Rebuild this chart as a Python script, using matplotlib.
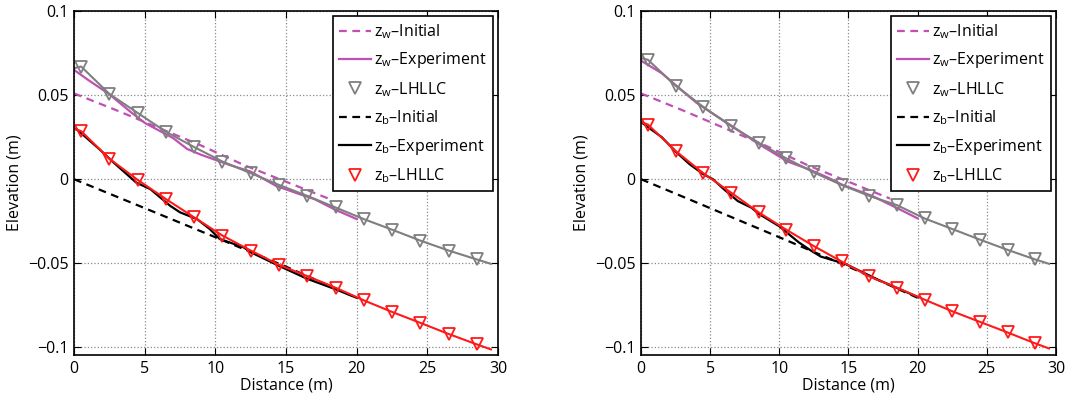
import matplotlib.pyplot as plt
import numpy as np

plt.rcParams['font.family'] = ['Open Sans', 'DejaVu Sans']
plt.rcParams['mathtext.fontset'] = 'custom'
plt.rcParams['mathtext.rm'] = 'Open Sans'

# initial profiles (same for both runs)
x_init_w = [0, 3, 6, 9, 12, 15, 18]
zw_init = [0.051, 0.041, 0.0305, 0.020, 0.0085, -0.0015, -0.0115]
x_init_b = [0, 5, 10, 15, 20]
zb_init = [0, -0.0172, -0.0345, -0.052, -0.0705]

# LHLLC output points (line starts at 0, markers every 2 m from 0.5)
x_sim = [0, 0.5, 2.5, 4.5, 6.5, 8.5, 10.5, 12.5, 14.5, 16.5, 18.5, 20.5, 22.5, 24.5, 26.5, 28.5, 29.5]

# run 1
x_exp_w1 = [0, 1, 2.5, 4, 5, 6, 7, 8, 9, 10, 11, 12.5, 14.3, 16, 17, 18.5, 20]
zw_exp1 = [0.065, 0.059, 0.0505, 0.040, 0.0335, 0.029, 0.0245, 0.018, 0.0145, 0.0115, 0.0085,
           0.0045, -0.004, -0.009, -0.0118, -0.0182, -0.0237]
x_exp_b1 = [0, 0.2, 1.8, 2.8, 4.4, 5.4, 6.8, 7.5, 8.7, 9.6, 10.3, 12.0, 12.5, 14.6, 16.5, 18.4, 20]
zb_exp1 = [0.030, 0.0296, 0.0178, 0.0099, -0.002, -0.0059, -0.0158, -0.0197, -0.0237, -0.0296,
           -0.0355, -0.0405, -0.0434, -0.0519, -0.0592, -0.0651, -0.0705]
zw_sim1 = [0.066, 0.067, 0.0507, 0.0394, 0.0282, 0.0191, 0.0105, 0.0036, -0.0034, -0.0099,
           -0.0168, -0.0237, -0.030, -0.0365, -0.0424, -0.0477, -0.0503]
zb_sim1 = [0.030, 0.0286, 0.0122, -0.0004, -0.0118, -0.0227, -0.0335, -0.0424, -0.0509, -0.0576,
           -0.0645, -0.072, -0.0789, -0.0854, -0.092, -0.0982, -0.1012]

# run 2
x_exp_w2 = [0, 1.5, 2.5, 4, 5, 6.5, 8.6, 10, 10.6, 12.1, 13.5, 14.6, 16.7, 18.6, 20]
zw_exp2 = [0.0705, 0.063, 0.056, 0.0455, 0.040, 0.032, 0.0205, 0.0135, 0.0105, 0.006, 0.001,
           -0.0035, -0.0099, -0.0175, -0.0233]
x_exp_b2 = [0, 1.5, 2.5, 3.5, 4.5, 5.2, 6, 7, 8, 8.5, 10, 11.4, 12.3, 13, 14.75, 17.2, 20]
zb_exp2 = [0.034, 0.025, 0.0165, 0.009, 0.003, 0.000, -0.006, -0.013, -0.017, -0.0205, -0.028,
           -0.0375, -0.0425, -0.046, -0.0503, -0.060, -0.070]
zw_sim2 = [0.072, 0.071, 0.0556, 0.043, 0.0316, 0.0217, 0.0124, 0.004, -0.0034, -0.0099,
           -0.0154, -0.0233, -0.0296, -0.0359, -0.042, -0.0477, -0.0503]
zb_sim2 = [0.034, 0.0325, 0.0168, 0.0036, -0.0079, -0.0197, -0.030, -0.0398, -0.0489, -0.0578,
           -0.0645, -0.0716, -0.0785, -0.0848, -0.0911, -0.0976, -0.1006]

magenta = '#c050b4'
gray = '#7f7f7f'
red = '#ff1a1a'

fig = plt.figure(figsize=(10.92, 3.97), dpi=100)
ax1 = fig.add_axes([0.0678, 0.1058, 0.3883, 0.8665])
ax2 = fig.add_axes([0.587, 0.1058, 0.380, 0.8665])

runs = [(ax1, x_exp_w1, zw_exp1, x_exp_b1, zb_exp1, zw_sim1, zb_sim1),
        (ax2, x_exp_w2, zw_exp2, x_exp_b2, zb_exp2, zw_sim2, zb_sim2)]

for ax, xw, zw, xb, zb, zws, zbs in runs:
    ax.plot(x_init_w, zw_init, '--', color=magenta, lw=1.6, dashes=(3.5, 2.5))
    ax.plot(xw, zw, '-', color=magenta, lw=1.6)
    ax.plot(x_sim, zws, '-', color=gray, lw=1.5)
    ax.plot(x_init_b, zb_init, '--', color='k', lw=1.6, dashes=(3.5, 2.5))
    ax.plot(xb, zb, '-', color='k', lw=1.6)
    ax.plot(x_sim, zbs, '-', color=red, lw=1.5)
    ax.plot(x_sim[1:-1], zws[1:-1], 'v', mfc='none', mec=gray, ms=9, mew=1.3)
    ax.plot(x_sim[1:-1], zbs[1:-1], 'v', mfc='none', mec=red, ms=9, mew=1.3)

    # legend proxies
    h = [plt.Line2D([], [], ls='--', color=magenta, lw=1.6, dashes=(3.5, 2.5)),
         plt.Line2D([], [], ls='-', color=magenta, lw=1.6),
         plt.Line2D([], [], ls='none', marker='v', mfc='none', mec=gray, ms=9, mew=1.3),
         plt.Line2D([], [], ls='--', color='k', lw=1.6, dashes=(3.5, 2.5)),
         plt.Line2D([], [], ls='-', color='k', lw=1.6),
         plt.Line2D([], [], ls='none', marker='v', mfc='none', mec=red, ms=9, mew=1.3)]
    labels = [r'$\mathregular{z_w}$–Initial', r'$\mathregular{z_w}$–Experiment', r'$\mathregular{z_w}$–LHLLC',
              r'$\mathregular{z_b}$–Initial', r'$\mathregular{z_b}$–Experiment', r'$\mathregular{z_b}$–LHLLC']
    leg = ax.legend(h, labels, loc='upper right', fontsize=11.5, fancybox=False, framealpha=1,
                    edgecolor='k', handlelength=2.0, handletextpad=0.2, labelspacing=0.6,
                    borderaxespad=0.3, borderpad=0.4)
    leg.get_frame().set_linewidth(1.2)

    ax.set_xlim(0, 30)
    ax.set_ylim(-0.1045, 0.1)
    ax.set_xticks([0, 5, 10, 15, 20, 25, 30])
    ax.set_yticks([-0.1, -0.05, 0, 0.05, 0.1])
    ax.set_yticklabels(['−0.1', '−0.05', '0', '0.05', '0.1'])
    ax.tick_params(direction='in', top=True, right=True, labelsize=11.5, length=5, pad=4)
    ax.grid(True, ls=':', color='#8a8a8a', lw=0.9)
    for s in ax.spines.values():
        s.set_linewidth(1.2)
    ax.set_xlabel('Distance (m)', fontsize=11.5, labelpad=1)
    ax.set_ylabel('Elevation (m)', fontsize=11.5, labelpad=4)

fig.savefig('out.png', dpi=100)
